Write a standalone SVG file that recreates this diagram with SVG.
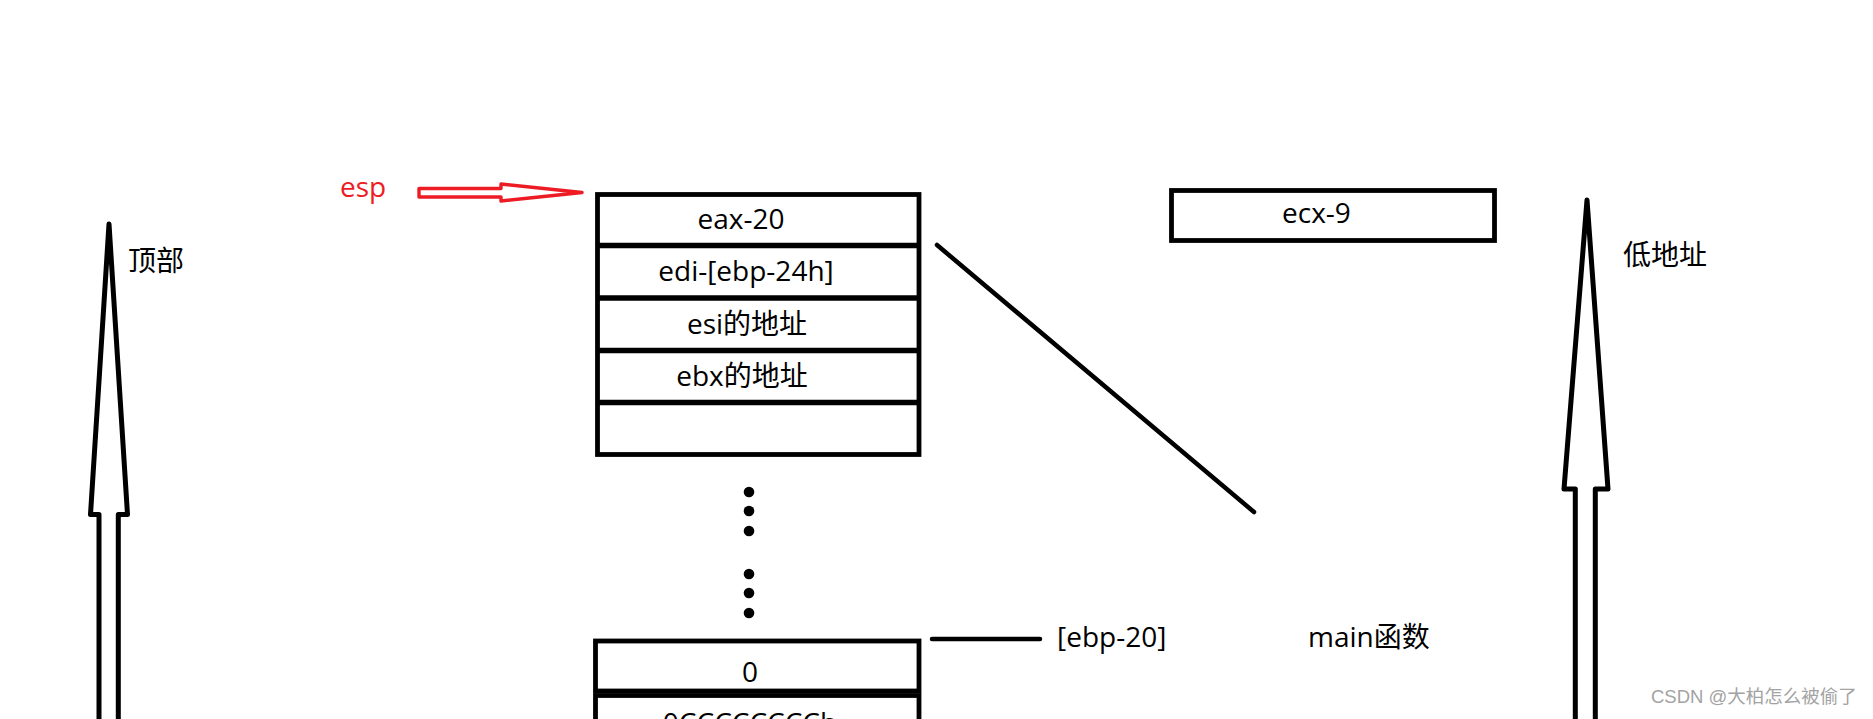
<svg xmlns="http://www.w3.org/2000/svg" width="1873" height="719" viewBox="0 0 1873 719">
<style>
.t{font-family:"Open Sans","Noto Sans CJK SC",sans-serif;font-size:28px;fill:#000}
.m{text-anchor:middle}
.box{fill:#fff;stroke:#000;stroke-width:4.8}
.ln{stroke:#000;stroke-width:4.5;stroke-linecap:round;fill:none}
.big{fill:#fff;stroke:#000;stroke-width:5;stroke-linejoin:round}
.wm{font-family:"Liberation Sans","Noto Sans CJK SC",sans-serif;font-size:18.5px;fill:#a3a3a3}
</style>
<rect width="1873" height="719" fill="#fff"/>

<g id="arrow-top">
<path class="big" d="M109,224 L127.5,514.5 L118.3,514.5 L118.3,740 L99,740 L99,514.5 L90.5,514.5 Z"/>
<text class="t" x="128" y="271">顶部</text>
</g>

<g id="arrow-low">
<path class="big" d="M1587,200 L1608,489 L1595.3,489 L1595.3,740 L1575.3,740 L1575.3,489 L1564,489 Z"/>
<text class="t" x="1623" y="265">低地址</text>
</g>

<g id="esp">
<text class="t" x="340" y="197" style="fill:#ed1c24">esp</text>
</g>

<g id="stack-top">
<rect class="box" x="597.5" y="194.5" width="321.5" height="260"/>
<line x1="597.5" y1="245.5" x2="919" y2="245.5" stroke="#000" stroke-width="5.5"/>
<line x1="597.5" y1="298" x2="919" y2="298" stroke="#000" stroke-width="5.5"/>
<line x1="597.5" y1="350.5" x2="919" y2="350.5" stroke="#000" stroke-width="5.5"/>
<line x1="597.5" y1="402.5" x2="919" y2="402.5" stroke="#000" stroke-width="5.5"/>
<text class="t m" x="741" y="229">eax-20</text>
<text class="t m" x="746" y="281">edi-[ebp-24h]</text>
<text class="t m" x="747" y="334">esi的地址</text>
<text class="t m" x="742" y="386">ebx的地址</text>
</g>

<g id="ellipsis">
<circle cx="749" cy="492" r="5.3"/>
<circle cx="749" cy="511" r="5.3"/>
<circle cx="749" cy="531" r="5.3"/>
<circle cx="749" cy="574" r="5.3"/>
<circle cx="749" cy="593" r="5.3"/>
<circle cx="749" cy="613" r="5.3"/>
</g>

<g id="stack-bottom">
<rect class="box" x="595.5" y="641" width="323.5" height="50"/>
<rect class="box" x="595.5" y="695.5" width="323.5" height="60"/>
<text class="t m" x="750" y="682">0</text>
<text class="t m" x="750" y="733">0CCCCCCCCh</text>
</g>

<g id="ecx">
<rect class="box" x="1171.5" y="190.5" width="323" height="50"/>
<text class="t" x="1282" y="223">ecx-9</text>
</g>

<g id="labels">
<text class="t" x="1057" y="647">[ebp-20]</text>
<text class="t" x="1308" y="647">main函数</text>
</g>

<g id="connectors">
<path d="M419,188.5 L501,188.5 L501,184 L582,192.5 L501,201 L501,197 L419,197 Z" fill="#fff" stroke="#ed1c24" stroke-width="3.4" stroke-linejoin="round"/>
<line class="ln" x1="937" y1="245" x2="1254" y2="512"/>
<line class="ln" x1="932" y1="639" x2="1040" y2="639"/>
</g>

<text class="wm" x="1651" y="703">CSDN @大柏怎么被偷了</text>
</svg>
